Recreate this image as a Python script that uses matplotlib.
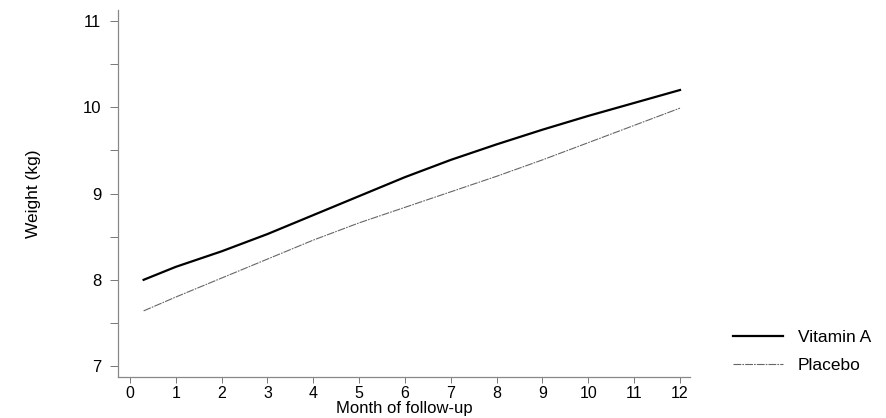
import matplotlib
matplotlib.use("Agg")
import matplotlib.pyplot as plt
import numpy as np

months = [0.3, 1, 2, 3, 4, 5, 6, 7, 8, 9, 10, 11, 12]
vitamin_a = [8.00, 8.15, 8.33, 8.53, 8.75, 8.97, 9.19, 9.39, 9.57, 9.74, 9.90, 10.05, 10.20]
placebo = [7.64, 7.80, 8.02, 8.24, 8.46, 8.66, 8.84, 9.02, 9.20, 9.39, 9.59, 9.79, 9.99]
x_ticks = list(range(0, 13))
y_ticks = [7, 8, 9, 10, 11]
y_minor = [7.5, 8.5, 9.5, 10.5]

plt.rcParams['font.family'] = ['Liberation Sans', 'DejaVu Sans']

fig = plt.figure(figsize=(8.87, 4.18), dpi=100)
ax = fig.add_axes([0.133, 0.098, 0.645, 0.878])

l1, = ax.plot(months, vitamin_a, color='black', lw=1.6, label='Vitamin A')
l2, = ax.plot(months, placebo, color='#666666', lw=0.8, dashes=(7, 1, 1.5, 1), label='Placebo')

ax.set_xlim(-0.26, 12.22)
ax.set_ylim(6.873, 11.127)
ax.set_xticks(x_ticks)
ax.set_yticks(y_ticks)
ax.set_yticks(y_minor, minor=True)
ax.tick_params(axis='x', which='major', labelsize=11.5, length=4, width=0.7, color='#777777', pad=2.5)
ax.tick_params(axis='y', which='major', labelsize=12, length=6, width=0.7, color='#777777', pad=6)
ax.tick_params(axis='y', which='minor', length=6, width=0.7, color='#777777')

for s in ['top', 'right']:
    ax.spines[s].set_visible(False)
for s in ['left', 'bottom']:
    ax.spines[s].set_color('#888888')
    ax.spines[s].set_linewidth(0.9)

ax.set_xlabel('Month of follow-up', fontsize=12, labelpad=0)
ax.set_ylabel('Weight (kg)', fontsize=12.5, labelpad=30)

fig.legend(handles=[l1, l2], loc='center left', bbox_to_anchor=(0.826, 0.16),
           frameon=False, fontsize=12.5, handlelength=2.9, handletextpad=0.85,
           labelspacing=0.75, borderpad=0, borderaxespad=0)

fig.savefig('out.png', dpi=100)
